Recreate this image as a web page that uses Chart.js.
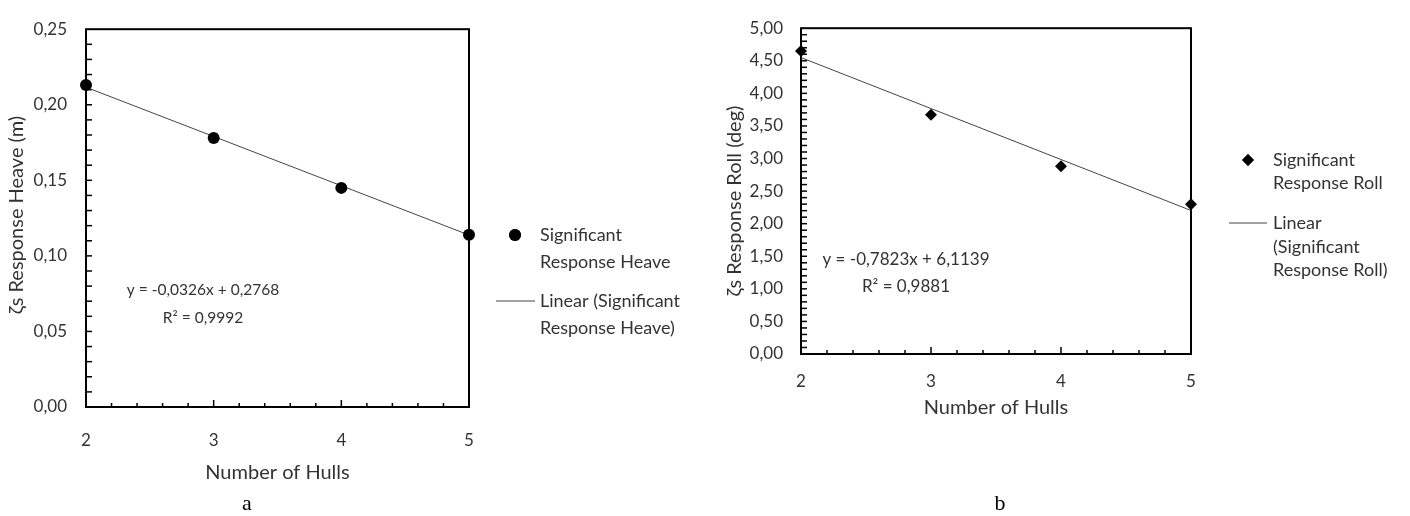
<!DOCTYPE html>
<html>
<head>
<meta charset="utf-8">
<title>Heave / Roll</title>
<script src="https://cdn.jsdelivr.net/npm/chart.js@4.4.1/dist/chart.umd.min.js"></script>
<style>
  body { margin: 0; background: #fff; }
  #page { position: relative; width: 1410px; height: 516px; }
  canvas { position: absolute; top: 0; }
  .legende-fig { position: absolute; top: 490px; font-family: "Liberation Serif", "Times New Roman", serif; font-size: 22px; color: #000; transform: translateX(-50%); }
</style>
</head>
<body>
<div id="page">
  <canvas id="graphe-heave" width="720" height="516" style="left:0"></canvas>
  <canvas id="graphe-roll" width="690" height="516" style="left:720px"></canvas>
  <div class="legende-fig" style="left:247px">a</div>
  <div class="legende-fig" style="left:1000px">b</div>
</div>
<script>
// les données
const nbCoques = [2, 3, 4, 5];
const heave = [0.213, 0.178, 0.145, 0.114];
const roll = [4.65, 3.67, 2.88, 2.30];

// droites de tendance (les équations écrites sur les graphes)
const heaveTendance = [-0.0326, 0.2768];   // pente, origine
const rollTendance = [-0.7823, 6.1139];

// axes : min, max, pas des valeurs, pas des petites graduations
const heaveAxeY = [0, 0.25, 0.05, 0.01];
const rollAxeY = [0, 5, 0.5, 0.1];
const axeX = [2, 5, 1, 0.2];

const gris = '#333';
const police = 'Lato, "Open Sans", sans-serif';

const virgule = v => v.toFixed(2).replace('.', ',');

// points de la droite aux deux bouts de l'axe x
function droite(t) {
    return [axeX[0], axeX[1]].map(x => ({ x: x, y: t[0] * x + t[1] }));
}

// cadre + petites graduations + textes + légende
const cadre = {
    id: 'cadre',
    beforeDatasetsDraw(chart, args, o) {
        const ctx = chart.ctx, a = chart.chartArea;
        const sx = chart.scales.x, sy = chart.scales.y;
        ctx.save();
        ctx.strokeStyle = '#000';
        ctx.lineWidth = 1.5;
        const ny = Math.round((sy.max - sy.min) / o.pasY);
        for (let i = 1; i < ny; i++) {
            const y = sy.getPixelForValue(sy.min + i * o.pasY);
            ctx.beginPath();
            ctx.moveTo(a.left, y);
            ctx.lineTo(a.left + 6, y);
            ctx.stroke();
        }
        const nx = Math.round((sx.max - sx.min) / o.pasX);
        for (let i = 1; i < nx; i++) {
            const v = sx.min + i * o.pasX;
            const x = sx.getPixelForValue(v);
            const grand = Math.abs(v - Math.round(v)) < 1e-6;
            ctx.beginPath();
            ctx.moveTo(x, a.bottom);
            ctx.lineTo(x, a.bottom - (grand ? 7 : 4));
            ctx.stroke();
        }
        ctx.lineWidth = 2;
        ctx.strokeRect(a.left, a.top, a.right - a.left, a.bottom - a.top);
        ctx.restore();
    },
    afterDraw(chart, args, o) {
        const ctx = chart.ctx;
        ctx.save();
        ctx.fillStyle = gris;
        ctx.textBaseline = 'middle';

        // équation de la droite
        ctx.font = o.tailleEq + 'px ' + police;
        ctx.textAlign = 'center';
        o.equation.forEach((t, i) => ctx.fillText(t, o.eqX, o.eqY[i]));

        // titre de l'axe y
        ctx.save();
        ctx.translate(o.titreY[0], o.titreY[1]);
        ctx.rotate(-Math.PI / 2);
        ctx.font = '20px ' + police;
        ctx.fillText(o.titreY[2], 0, 0);
        ctx.restore();

        // légende
        const lg = o.legende;
        ctx.font = lg.taille + 'px ' + police;
        ctx.textAlign = 'left';
        const ds = chart.data.datasets;
        Chart.helpers.drawPoint(ctx, {
            pointStyle: ds[0].pointStyle, radius: ds[0].pointRadius, rotation: 0, borderWidth: 0
        }, lg.marqueX, lg.y[0][0]);
        ctx.fillStyle = ds[0].backgroundColor;
        ctx.fill();
        ctx.strokeStyle = ds[1].borderColor;
        ctx.lineWidth = ds[1].borderWidth;
        ctx.beginPath();
        ctx.moveTo(lg.trait[0], lg.y[1][0]);
        ctx.lineTo(lg.trait[1], lg.y[1][0]);
        ctx.stroke();
        ctx.fillStyle = gris;
        lg.textes.forEach((lignes, k) => {
            lignes.forEach((t, i) => ctx.fillText(t, lg.texteX, lg.y[k][i]));
        });
        ctx.restore();
    }
};

function graphe(canvas, c) {
    if (!canvas) return;
    return new Chart(canvas, {
        type: 'scatter',
        data: {
            datasets: [{
                label: c.nom,
                data: nbCoques.map((x, i) => ({ x: x, y: c.valeurs[i] })),
                pointStyle: c.forme,
                pointRadius: 6,
                backgroundColor: '#000',
                borderColor: '#000',
                borderWidth: 0,
                clip: false,
                order: 1
            }, {
                type: 'line',
                label: 'Linear (' + c.nom + ')',
                data: droite(c.tendance),
                borderColor: '#444',
                borderWidth: 1,
                pointRadius: 0,
                fill: false,
                clip: false,
                order: 2
            }]
        },
        options: {
            responsive: false,
            animation: false,
            layout: { padding: c.padding },
            plugins: {
                legend: { display: false },
                tooltip: { enabled: false },
                cadre: c.cadre
            },
            scales: {
                x: {
                    type: 'linear',
                    min: axeX[0], max: axeX[1],
                    afterFit: s => { s.height = c.hauteurX; },
                    grid: { display: false, drawTicks: false },
                    border: { display: false },
                    ticks: {
                        stepSize: axeX[2],
                        padding: c.padX,
                        color: gris,
                        font: { family: police, size: 17 },
                        callback: v => String(v)
                    },
                    title: {
                        display: true,
                        text: 'Number of Hulls',
                        color: gris,
                        font: { family: police, size: 20 },
                        padding: { top: 0, bottom: c.padTitreX }
                    }
                },
                y: {
                    min: c.axeY[0], max: c.axeY[1],
                    afterFit: s => { s.width = c.largeurY; },
                    grid: { display: false, drawTicks: false },
                    border: { display: false },
                    ticks: {
                        stepSize: c.axeY[2],
                        padding: c.padY,
                        color: gris,
                        font: { family: police, size: 17 },
                        callback: v => virgule(v)
                    }
                }
            }
        },
        plugins: [cadre]
    });
}

// le graphe a : heave
graphe(document.querySelector('#graphe-heave'), {
    nom: 'Significant Response Heave',
    valeurs: heave,
    tendance: heaveTendance,
    forme: 'circle',
    axeY: heaveAxeY,
    padding: { left: 0, top: 21, right: 251, bottom: 0 },
    largeurY: 86, hauteurX: 109,
    padX: 23, padY: 19, padTitreX: 31,
    cadre: {
        pasX: axeX[3], pasY: heaveAxeY[3],
        equation: ['y = -0,0326x + 0,2768', 'R\u00b2 = 0,9992'],
        tailleEq: 15.5, eqX: 203, eqY: [290, 318],
        titreY: [17, 215, '\u03b6s Response Heave (m)'],
        legende: {
            taille: 18, marqueX: 515, texteX: 540, trait: [496, 535],
            y: [[235, 262], [301, 328]],
            textes: [['Significant', 'Response Heave'], ['Linear (Significant', 'Response Heave)']]
        }
    }
});

// le graphe b : roll
graphe(document.querySelector('#graphe-roll'), {
    nom: 'Significant Response Roll',
    valeurs: roll,
    tendance: rollTendance,
    forme: 'rectRot',
    axeY: rollAxeY,
    padding: { left: 0, top: 12, right: 219, bottom: 0 },
    largeurY: 81, hauteurX: 162,
    padX: 17, padY: 18, padTitreX: 96,
    cadre: {
        pasX: axeX[3], pasY: rollAxeY[3],
        equation: ['y = -0,7823x + 6,1139', 'R\u00b2 = 0,9881'],
        tailleEq: 17, eqX: 186, eqY: [260, 287],
        titreY: [15, 201, '\u03b6s Response Roll (deg)'],
        legende: {
            taille: 18, marqueX: 528, texteX: 553, trait: [509, 547],
            y: [[160, 183], [223, 247, 270]],
            textes: [['Significant', 'Response Roll'], ['Linear', '(Significant', 'Response Roll)']]
        }
    }
});
</script>
</body>
</html>
